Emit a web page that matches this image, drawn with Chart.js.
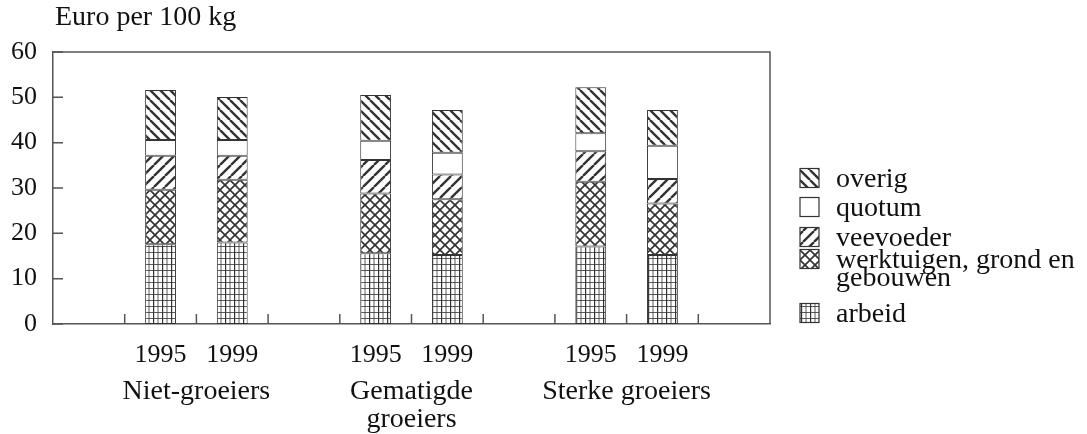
<!DOCTYPE html>
<html>
<head>
<meta charset="utf-8">
<script src="https://cdn.jsdelivr.net/npm/chart.js@4"></script>
<style>
  html, body { margin: 0; background: #fff; }
  #wrap { width: 1087px; height: 434px; }
</style>
</head>
<body>
<div id="wrap"><canvas id="chartKosten"></canvas></div>
<script>
// categorieen: lege posities zijn de ruimte tussen de groepen
const jaren = ['', '1995', '1999', '', '1995', '1999', '', '1995', '1999', ''];
const groepen = ['Niet-groeiers', ['Gematigde', 'groeiers'], 'Sterke groeiers'];
const yTicks = [0, 10, 20, 30, 40, 50, 60];

const arbeid     = [null, 17.6, 18.0, null, 15.6, 15.2, null, 17.1, 15.2, null];
const werktuigen = [null, 12.0, 13.8, null, 13.2, 12.3, null, 14.3, 11.4, null];
const veevoeder  = [null, 7.5, 5.3, null, 7.4, 5.5, null, 6.7, 5.4, null];
const quotum     = [null, 3.5, 3.5, null, 4.2, 4.8, null, 4.0, 7.3, null];
const overig     = [null, 11.0, 9.5, null, 10.1, 9.4, null, 10.1, 7.9, null];

const reeksNamen = ['arbeid', ['werktuigen, grond en', 'gebouwen'], 'veevoeder', 'quotum', 'overig'];

const lijn = '#333';
const tekst = '#111';
const font = 'Liberation Serif';

function maakPatroon(w, h, teken) {
  const c = document.createElement('canvas');
  c.width = w; c.height = h;
  const g = c.getContext('2d');
  g.fillStyle = '#fff';
  g.fillRect(0, 0, w, h);
  g.strokeStyle = lijn;
  teken(g, w, h);
  return g.createPattern(c, 'repeat');
}

function schuin(g, w, h, omlaag) {
  g.beginPath();
  for (const k of [-w, 0, w]) {
    if (omlaag) { g.moveTo(k, 0); g.lineTo(k + w, h); }
    else { g.moveTo(k, h); g.lineTo(k + w, 0); }
  }
  g.stroke();
}

const patOverig = maakPatroon(10, 10, (g, w, h) => { g.lineWidth = 2.4; schuin(g, w, h, true); });
const patVeevoeder = maakPatroon(11, 11, (g, w, h) => { g.lineWidth = 2.4; schuin(g, w, h, false); });
const patWerktuigen = maakPatroon(10, 10, (g, w, h) => {
  g.lineWidth = 1.6; schuin(g, w, h, true); schuin(g, w, h, false);
});
const patArbeid = maakPatroon(9, 6, (g, w, h) => {
  g.lineWidth = 1.4;
  g.beginPath(); g.moveTo(0.5, 0); g.lineTo(0.5, h); g.stroke();
  g.lineWidth = 0.8;
  g.beginPath(); g.moveTo(5, 0); g.lineTo(5, h); g.moveTo(0, 0.5); g.lineTo(w, 0.5); g.stroke();
});

const reeksData = [arbeid, werktuigen, veevoeder, quotum, overig];
const reeksVulling = [patArbeid, patWerktuigen, patVeevoeder, '#fff', patOverig];

const datasets = reeksData.map((d, i) => ({
  label: [].concat(reeksNamen[i]).join(' '),
  regels: [].concat(reeksNamen[i]),
  data: d,
  backgroundColor: reeksVulling[i],
  borderColor: lijn,
  borderWidth: 1,
  borderSkipped: false,
  barPercentage: 0.43,
  categoryPercentage: 1
}));

const extras = {
  id: 'extras',
  afterDraw(chart) {
    const ctx = chart.ctx;
    const a = chart.chartArea;
    const xs = chart.scales.x, ys = chart.scales.y;
    ctx.save();
    ctx.strokeStyle = '#555';
    ctx.lineWidth = 1.5;
    // bovenkant en rechterkant van het kader
    ctx.beginPath();
    ctx.moveTo(a.left, a.top); ctx.lineTo(a.right, a.top); ctx.lineTo(a.right, a.bottom);
    ctx.stroke();
    // korte streepjes naar binnen
    ctx.beginPath();
    ys.ticks.forEach(t => {
      const y = ys.getPixelForValue(t.value);
      ctx.moveTo(a.left, y); ctx.lineTo(a.left + 10, y);
    });
    for (let i = 1; i < jaren.length; i++) {
      const x = (xs.getPixelForValue(i - 1) + xs.getPixelForValue(i)) / 2;
      ctx.moveTo(x, a.bottom); ctx.lineTo(x, a.bottom - 10);
    }
    ctx.stroke();

    ctx.fillStyle = tekst;
    ctx.font = '28px "' + font + '"';
    ctx.textBaseline = 'middle';
    // titel van de y-as
    ctx.textAlign = 'left';
    ctx.fillText('Euro per 100 kg', 55, 18);
    // groepsnamen onder de jaren
    ctx.textAlign = 'center';
    let g = 0;
    jaren.forEach((j, i) => {
      if (j !== '1995') return;
      const x = (xs.getPixelForValue(i) + xs.getPixelForValue(i + 1)) / 2;
      [].concat(groepen[g]).forEach((r, k) => ctx.fillText(r, x, 392 + k * 28));
      g++;
    });
    // legenda, bovenste reeks eerst
    const rijen = [178, 207, 237, 259, 313];
    ctx.textAlign = 'left';
    chart.data.datasets.slice().reverse().forEach((ds, i) => {
      const y = rijen[i];
      ctx.fillStyle = ds.backgroundColor;
      ctx.fillRect(800, y - 9.5, 19, 19);
      ctx.strokeStyle = lijn;
      ctx.lineWidth = 1.2;
      ctx.strokeRect(800, y - 9.5, 19, 19);
      ctx.fillStyle = tekst;
      ds.regels.forEach((r, k) => ctx.fillText(r, 836, y + 2 + k * 18));
    });
    ctx.restore();
  }
};

Chart.defaults.font.family = font;
Chart.defaults.color = tekst;

new Chart(document.getElementById('chartKosten'), {
  type: 'bar',
  data: { labels: jaren, datasets: datasets },
  options: {
    responsive: true,
    maintainAspectRatio: false,
    animation: false,
    layout: { padding: { top: 52, right: 317, left: 0, bottom: 0 } },
    plugins: { legend: { display: false }, tooltip: { enabled: false } },
    scales: {
      x: {
        stacked: true,
        grid: { display: false },
        border: { display: true, color: '#555', width: 1.5 },
        ticks: { font: { size: 26 }, padding: 8, autoSkip: false, maxRotation: 0 },
        afterFit: s => { s.height = 110; }
      },
      y: {
        stacked: true,
        min: 0,
        max: 60,
        afterBuildTicks: s => { s.ticks = yTicks.map(v => ({ value: v })); },
        grid: { display: false, drawTicks: false },
        border: { display: true, color: '#555', width: 1.5 },
        ticks: { font: { size: 26 }, padding: 16 },
        afterFit: s => { s.width = 53; }
      }
    }
  },
  plugins: [extras]
});
</script>
</body>
</html>
